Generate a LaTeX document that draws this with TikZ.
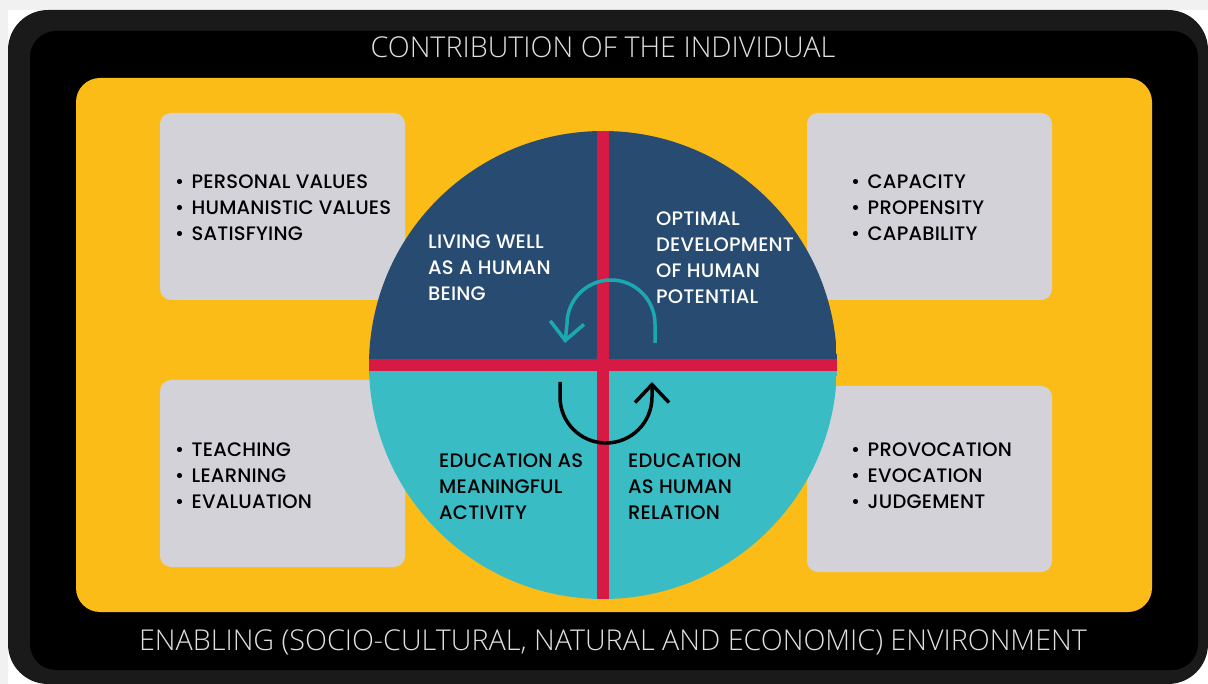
\documentclass[tikz,border=0pt]{standalone}
\usepackage{fontspec}
\usetikzlibrary{positioning, arrows.meta}
\IfFontExistsTF{Poppins Medium}{\setmainfont[LetterSpace=1]{Poppins Medium}}{\setmainfont[LetterSpace=1]{Poppins}}
\IfFontExistsTF{Open Sans Light}{\newfontfamily\thinfont{Open Sans Light}}{\newfontfamily\thinfont{Open Sans}}

\definecolor{edgegray}{HTML}{F1F1F1}
\definecolor{outerblack}{HTML}{1A1A1A}
\definecolor{yellowbg}{HTML}{FCBC18}
\definecolor{panelgray}{HTML}{D3D2D8}
\definecolor{darkblue}{HTML}{284C71}
\definecolor{lightteal}{HTML}{3ABCC5}
\definecolor{crossred}{HTML}{D61A43}
\definecolor{arrowteal}{HTML}{1BA9B1}

\newcommand{\bul}{\makebox[16.5pt][l]{\textbullet}}

\begin{document}
\begin{tikzpicture}[x=1pt, y=-1pt,
    listtext/.style={anchor=north west, inner sep=0pt, align=left,
        font=\fontsize{19.5}{26}\selectfont, text=black},
    quartertext/.style={listtext, text=white},
    titletext/.style={anchor=base, inner sep=0pt, text=white!88!black,
        font=\thinfont\fontsize{28.7}{29}\selectfont},
    panel/.style={fill=panelgray, rounded corners=11pt},
    turn/.style={line width=3.5pt, -{Straight Barb[length=18pt, width=34pt]}}]

    \useasboundingbox (0,0) rectangle (1208,684);
    \fill[white] (0,0) rectangle (1208,684);
    \fill[edgegray] (0,0) rectangle (1208,10);
    \fill[edgegray] (0,0) rectangle (8,684);
    % frames
    \fill[outerblack, rounded corners=40pt] (8,10) rectangle (1208,684);
    \fill[black, rounded corners=26pt] (30,31) rectangle (1198,670);
    \fill[yellowbg, rounded corners=24pt] (76,78) rectangle (1152,612);

    \node[titletext] (individual) at (603,58) {CONTRIBUTION OF THE INDIVIDUAL};
    \node[titletext] (environment) at (613,650) {ENABLING (SOCIO-CULTURAL, NATURAL AND ECONOMIC) ENVIRONMENT};

    % corner panels
    \fill[panel] (160,113) rectangle (405,300);
    \fill[panel] (807,113) rectangle (1052,300);
    \fill[panel] (160,380) rectangle (405,567);
    \fill[panel] (807,386) rectangle (1052,572);

    \node[listtext] (values) at (175,174.5) {\bul PERSONAL VALUES\\ \bul HUMANISTIC VALUES\\ \bul SATISFYING};
    \node[listtext] (capacity) at (851,174.5) {\bul CAPACITY\\ \bul PROPENSITY\\ \bul CAPABILITY};
    \node[listtext] (teaching) at (175,442.5) {\bul TEACHING\\ \bul LEARNING\\ \bul EVALUATION};
    \node[listtext] (provocation) at (851,442.5) {\bul PROVOCATION\\ \bul EVOCATION\\ \bul JUDGEMENT};

    % circle
    \begin{scope}
        \clip (603,365) circle (234);
        \fill[darkblue] (369,131) rectangle (837,365);
        \fill[lightteal] (369,365) rectangle (837,599);
    \end{scope}
    \fill[crossred] (597,131) rectangle (609,599);
    \fill[crossred] (369,359) rectangle (837,371);

    \node[quartertext] (living) at (428,234.5) {LIVING WELL\\ AS A HUMAN\\ BEING};
    \node[quartertext] (optimal) at (656,211.5) {OPTIMAL\\ DEVELOPMENT\\ OF HUMAN\\ POTENTIAL};
    \node[quartertext, text=black] (activity) at (439,453.5) {EDUCATION AS\\ MEANINGFUL\\ ACTIVITY};
    \node[quartertext, text=black] (relation) at (628,453.5) {EDUCATION\\ AS HUMAN\\ RELATION};

    \draw[turn, arrowteal] (655,343) -- (655,324) arc[start angle=0, end angle=-180, radius=44] -- (565,343);
    \draw[turn, black] (560,382) -- (560,397) arc[start angle=180, end angle=0, radius=46] -- (652,382);
\end{tikzpicture}
\end{document}
